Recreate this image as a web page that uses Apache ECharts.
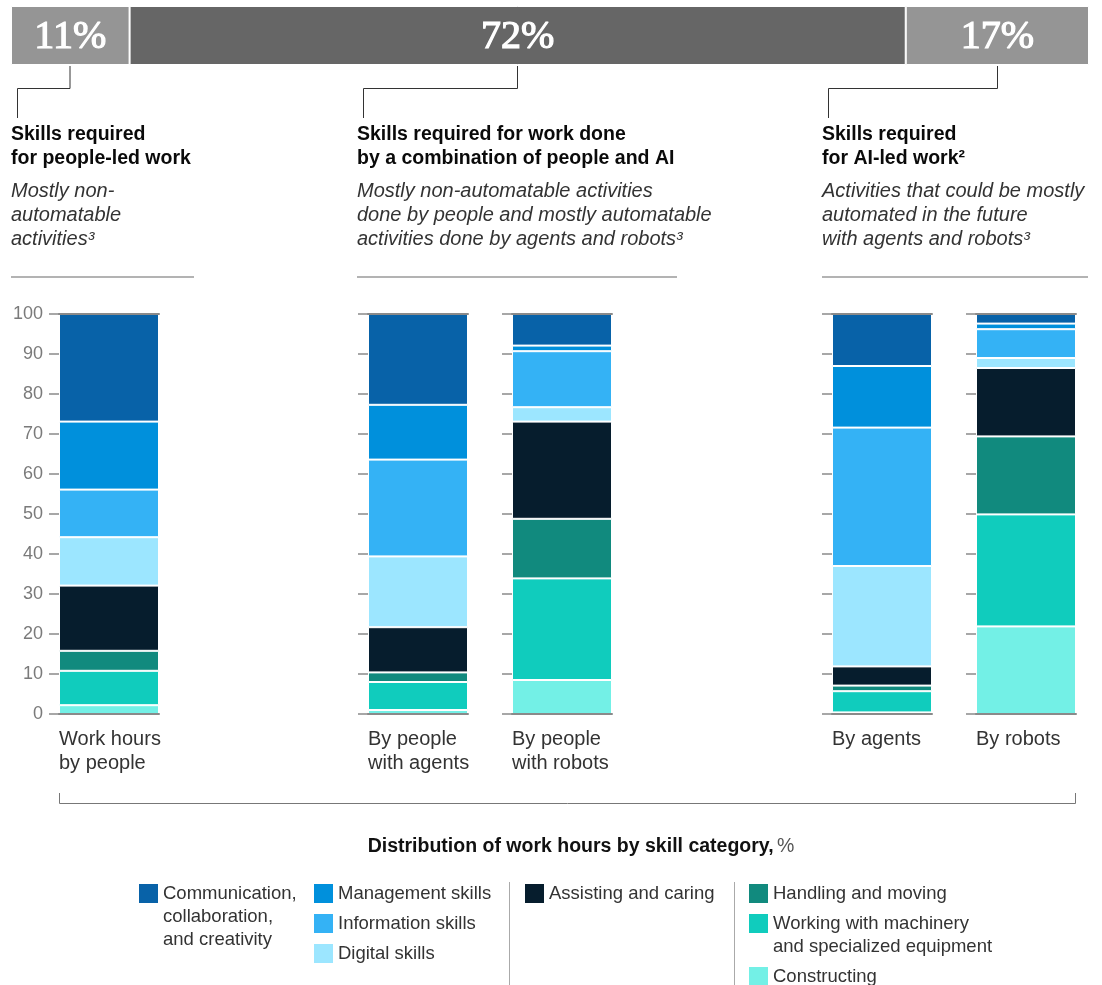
<!DOCTYPE html>
<html>
<head>
<meta charset="utf-8">
<script src="https://cdn.jsdelivr.net/npm/echarts@6/dist/echarts.min.js"></script>
<style>html,body{margin:0;padding:0;background:#fff}#c{width:1102px;height:985px}</style>
</head>
<body>
<div id="c"></div>
<script>
// ---- data ----
const categories = ['Work hours\nby people', 'By people\nwith agents', 'By people\nwith robots', 'By agents', 'By robots'];
const skills = ['Constructing', 'Working with machinery\nand specialized equipment', 'Handling and moving', 'Assisting and caring',
  'Digital skills', 'Information skills', 'Management skills', 'Communication,\ncollaboration,\nand creativity'];
const constructing  = [2.2, 1.0, 8.5, 0.4, 21.9];
const machinery     = [8.6, 7.0, 25.4, 5.3, 28.0];
const handling      = [5.0, 2.4, 14.9, 1.4, 19.5];
const assisting     = [16.3, 11.3, 24.3, 4.8, 17.1];
const digital       = [12.1, 17.7, 3.6, 25.1, 2.5];
const information   = [11.9, 24.2, 14.0, 34.6, 7.2];
const management    = [17.0, 13.7, 1.4, 15.4, 1.4];
const communication = [26.9, 22.7, 7.9, 13.0, 2.4];
const shareNames = ['People-led work', 'People and AI', 'AI-led work'];
const shares = [11, 72, 17];

// ---- styling / layout ----
const values = [constructing, machinery, handling, assisting, digital, information, management, communication];
const skillColors = ['#73f0e6', '#10ccbd', '#118a7e', '#061d2d', '#9ce6ff', '#34b2f5', '#0090dc', '#0862a8'];
const shareColors = ['#959595', '#666666', '#959595'];
const barLefts = [59, 368, 512, 832, 976];
const FONT = 'Liberation Sans, Arial, sans-serif';
const axisGray = '#8a8a8a';

const grid = [], xAxis = [], yAxis = [], series = [];
barLefts.forEach((l, i) => {
  grid.push({ left: l, top: 314, width: 100, height: 400 });
  xAxis.push({
    type: 'category', gridIndex: i, data: [categories[i]], z: 5,
    axisLine: { show: true, lineStyle: { color: axisGray, width: 2 } },
    axisTick: { show: false }, axisLabel: { show: false },
    name: categories[i], nameLocation: 'start', nameGap: 0,
    nameTextStyle: { align: 'left', verticalAlign: 'top', fontSize: 20, lineHeight: 24, color: '#333', padding: [13, 0, 0, 0] }
  });
  yAxis.push({
    type: 'value', gridIndex: i, min: 0, max: 100, interval: 10, z: 5,
    axisLine: { show: false },
    axisTick: { show: true, length: 10, lineStyle: { color: axisGray, width: 1.5 } },
    splitLine: { show: false },
    axisLabel: { show: i === 0, margin: 16, fontSize: 18, color: '#7a7a7a' }
  });
});
// top share bar
grid.push({ left: 11, top: 6, width: 1078, height: 59 });
xAxis.push({ type: 'value', gridIndex: 5, min: 0, max: 100, show: false });
yAxis.push({ type: 'category', gridIndex: 5, data: ['share'], show: false });
// top border lines of each column
barLefts.forEach((l, i) => {
  xAxis.push({
    type: 'category', gridIndex: i, position: 'top', data: [categories[i]], z: 5,
    axisLine: { show: true, lineStyle: { color: axisGray, width: 2 } },
    axisTick: { show: false }, axisLabel: { show: false }
  });
});

barLefts.forEach((l, i) => {
  skills.forEach((s, k) => {
    series.push({
      type: 'bar', name: s, stack: 'col' + i, xAxisIndex: i, yAxisIndex: i,
      barWidth: '100%', data: [values[k][i]],
      itemStyle: { color: skillColors[k], borderColor: '#fff', borderWidth: 1 },
      emphasis: { disabled: true }
    });
  });
});
shares.forEach((v, j) => {
  series.push({
    type: 'bar', name: shareNames[j], stack: 'share', xAxisIndex: 5, yAxisIndex: 5,
    barWidth: '100%', data: [v],
    itemStyle: { color: shareColors[j], borderColor: '#fff', borderWidth: 1 },
    label: { show: true, position: 'inside', formatter: '{c}%', color: '#fff', fontFamily: 'Liberation Serif, serif',
      fontSize: 40, textBorderColor: '#fff', textBorderWidth: 1.2, offset: [0, 2] },
    emphasis: { disabled: true }
  });
});

// legends (one per item to reproduce the column layout)
const legendPos = [
  [749, 965, 0],       // Constructing
  [749, 912 - 23, 1],  // machinery (2 lines)
  [749, 882, 0],       // handling
  [525, 882, 0],       // assisting
  [314, 942, 0],       // digital
  [314, 912, 0],       // information
  [314, 882, 0],       // management
  [139, 882 - 46, 2]   // communication (3 lines)
];
const legend = skills.map((s, k) => ({
  data: [s], left: legendPos[k][0], top: legendPos[k][1], orient: 'vertical',
  itemWidth: 19, itemHeight: 19, itemGap: 0, icon: 'rect', padding: 0, selectedMode: false,
  itemStyle: { borderWidth: 0 },
  formatter: name => '\n'.repeat(legendPos[k][2]) + name,
  textStyle: { fontSize: 18.5, color: '#333', lineHeight: 23 }
}));

function txt(x, y, text, opts) {
  return { type: 'text', left: x, top: y, style: Object.assign({ text: text, fontFamily: FONT, lineHeight: 24 }, opts) };
}
function line(points, color, width) {
  return { type: 'polyline', shape: { points: points }, style: { stroke: color, lineWidth: width, fill: null } };
}
const graphic = [
  line([[70, 66], [70, 88.5], [17.5, 88.5], [17.5, 118]], '#333', 1),
  line([[517.5, 66], [517.5, 88.5], [363.5, 88.5], [363.5, 118]], '#333', 1),
  line([[997.5, 66], [997.5, 88.5], [828.5, 88.5], [828.5, 118]], '#333', 1),
  txt(11, 123, 'Skills required\nfor people-led work', { fontSize: 19.5, fontWeight: 'bold', fill: '#0a0a0a' }),
  txt(357, 123, 'Skills required for work done\nby a combination of people and AI', { fontSize: 19.5, fontWeight: 'bold', fill: '#0a0a0a' }),
  txt(822, 123, 'Skills required\nfor AI-led work\u00b2', { fontSize: 19.5, fontWeight: 'bold', fill: '#0a0a0a' }),
  txt(11, 179, 'Mostly non-\nautomatable\nactivities\u00b3', { fontSize: 20, fontStyle: 'italic', fill: '#333' }),
  txt(357, 179, 'Mostly non-automatable activities\ndone by people and mostly automatable\nactivities done by agents and robots\u00b3', { fontSize: 20, fontStyle: 'italic', fill: '#333' }),
  txt(822, 179, 'Activities that could be mostly\nautomated in the future\nwith agents and robots\u00b3', { fontSize: 20, fontStyle: 'italic', fill: '#333' }),
  line([[11, 277], [194, 277]], '#b3b3b3', 2),
  line([[357, 277], [677, 277]], '#b3b3b3', 2),
  line([[822, 277], [1088, 277]], '#b3b3b3', 2),
  line([[59.5, 793], [59.5, 803.5], [1075.5, 803.5], [1075.5, 793]], '#777', 1),
  { type: 'text', x: 581, y: 847, style: {
      text: '{b|Distribution of work hours by skill category,} {r|%}', align: 'center', verticalAlign: 'middle',
      rich: { b: { fontFamily: FONT, fontWeight: 'bold', fontSize: 19.5, fill: '#111' }, r: { fontFamily: FONT, fontSize: 19.5, fill: '#555' } } } },
  line([[509.5, 882], [509.5, 985]], '#aaa', 1),
  line([[734.5, 882], [734.5, 985]], '#aaa', 1)
];

const chart = echarts.init(document.getElementById('c'), null, { renderer: 'canvas' });
chart.setOption({
  animation: false,
  textStyle: { fontFamily: FONT },
  grid: grid, xAxis: xAxis, yAxis: yAxis, series: series, legend: legend, graphic: graphic
});
</script>
</body>
</html>
